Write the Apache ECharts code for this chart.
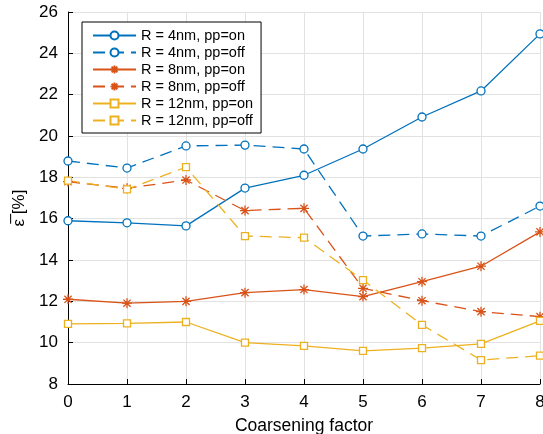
<!DOCTYPE html>
<html>
<head>
<meta charset="utf-8">
<script src="https://cdn.jsdelivr.net/npm/echarts@6/dist/echarts.min.js"></script>
<style>
  html, body { margin: 0; padding: 0; background: #fff; }
  #chart { width: 543px; height: 434px; }
</style>
</head>
<body>
<div id="chart"></div>
<script>
// coarsening factor on x
const factors = [0, 1, 2, 3, 4, 5, 6, 7, 8];

// mean error in %
const r4On   = [15.9, 15.8, 15.65, 17.48, 18.1, 19.37, 20.92, 22.18, 24.94];
const r4Off  = [18.79, 18.45, 19.52, 19.56, 19.37, 15.16, 15.26, 15.16, 16.61];
const r8On   = [12.1, 11.91, 12.0, 12.42, 12.57, 12.23, 12.95, 13.7, 15.36];
const r8Off  = [17.79, 17.47, 17.87, 16.39, 16.5, 12.63, 12.03, 11.5, 11.26];
const r12On  = [10.91, 10.93, 11.0, 10.0, 9.84, 9.6, 9.74, 9.94, 11.05];
const r12Off = [17.84, 17.42, 18.49, 15.16, 15.08, 13.03, 10.86, 9.16, 9.37];

const names = [
  "R = 4nm, pp=on", "R = 4nm, pp=off",
  "R = 8nm, pp=on", "R = 8nm, pp=off",
  "R = 12nm, pp=on", "R = 12nm, pp=off"
];

const blue = "#0072BD";
const red = "#D95319";
const yellow = "#EDB120";
const star = "path://M0,-5L0,5M-5,0L5,0M-3.6,-3.6L3.6,3.6M-3.6,3.6L3.6,-3.6";

function pairs(vals) {
  return factors.map((f, i) => [f, vals[i]]);
}

function line(name, vals, color, dashed, symbol, size) {
  return {
    name: name,
    type: "line",
    data: pairs(vals),
    symbol: symbol,
    symbolSize: size,
    lineStyle: { color: color, width: 1.3, type: dashed ? [12, 7] : "solid" },
    itemStyle: {
      color: symbol === star ? color : "#fff",
      borderColor: color,
      borderWidth: 1.3
    },
    emphasis: { disabled: true },
    animation: false
  };
}

const font = "Liberation Sans, Arial, Helvetica, sans-serif";
let myChart = echarts.init(document.getElementById("chart"));
myChart.setOption({
  textStyle: { fontFamily: font },
  grid: { left: 68, right: 3, top: 12, bottom: 50, outerBoundsMode: "none", containLabel: false },
  legend: {
    orient: "vertical",
    left: 82,
    top: 22,
    padding: [6, 8, 5, 10],
    itemGap: 2,
    itemWidth: 43,
    itemHeight: 10,
    borderColor: "#000",
    borderWidth: 1,
    borderRadius: 0,
    backgroundColor: "#fff",
    textStyle: { fontSize: 14.5, color: "#000", fontFamily: font },
    data: names
  },
  xAxis: {
    type: "value",
    min: 0,
    max: 8,
    interval: 1,
    name: "Coarsening factor",
    nameLocation: "middle",
    nameGap: 33,
    nameTextStyle: { fontSize: 17.5, color: "#000" },
    axisLine: { lineStyle: { color: "#000", width: 1 } },
    axisTick: { inside: true, length: 5, lineStyle: { color: "#000" } },
    axisLabel: { fontSize: 17, color: "#000", margin: 10 },
    splitLine: { show: true, lineStyle: { color: "#e2e2e2", width: 1 } }
  },
  yAxis: {
    type: "value",
    min: 8,
    max: 26,
    interval: 2,
    name: "ε\u0305 [%]",
    nameLocation: "middle",
    nameRotate: 90,
    nameGap: 34,
    nameTextStyle: { fontSize: 17, color: "#000", padding: [0, 20, 0, 0] },
    axisLine: { show: true, lineStyle: { color: "#000", width: 1 } },
    axisTick: { show: true, inside: true, length: 5, lineStyle: { color: "#000" } },
    axisLabel: { fontSize: 17, color: "#000", margin: 10 },
    splitLine: { show: true, lineStyle: { color: "#e2e2e2", width: 1 } }
  },
  series: [
    line(names[0], r4On, blue, false, "circle", 8),
    line(names[1], r4Off, blue, true, "circle", 8),
    line(names[2], r8On, red, false, star, 10),
    line(names[3], r8Off, red, true, star, 10),
    line(names[4], r12On, yellow, false, "rect", 7),
    line(names[5], r12Off, yellow, true, "rect", 7)
  ]
});
</script>
</body>
</html>
